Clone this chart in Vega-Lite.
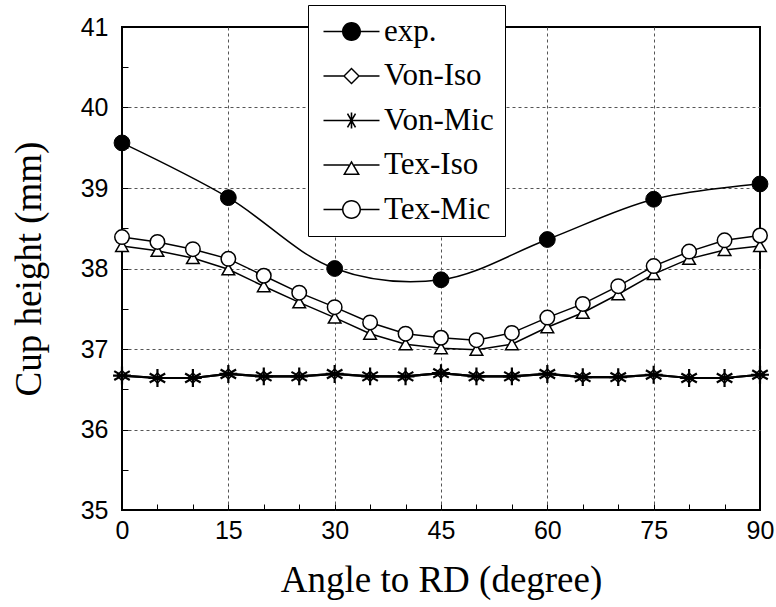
{
  "$schema": "https://vega.github.io/schema/vega-lite/v6.json",
  "width": 638,
  "height": 483,
  "autosize": {"type": "none"},
  "padding": {"left": 122, "top": 27, "right": 16, "bottom": 97},
  "background": "white",
  "config": {
    "view": {"stroke": "black", "strokeWidth": 2},
    "axis": {
      "domain": false,
      "labelFont": "Liberation Sans",
      "labelFontSize": 25,
      "labelColor": "black",
      "labelFlush": false,
      "labelOverlap": false,
      "tickColor": "black",
      "tickSize": -6,
      "tickWidth": 1,
      "gridColor": "#555555",
      "gridDash": [3, 3],
      "gridWidth": 1,
      "titleFont": "Liberation Serif",
      "titleFontSize": 37,
      "titleFontWeight": "normal",
      "titleColor": "black"
    },
    "legend": {
      "orient": "none",
      "legendX": 186,
      "legendY": -22,
      "fillColor": "white",
      "strokeColor": "black",
      "padding": 11,
      "labelFont": "Liberation Serif",
      "labelFontSize": 31,
      "labelColor": "black",
      "labelOffset": 17,
      "symbolOffset": 17,
      "rowPadding": 12.5,
      "symbolSize": 400,
      "symbolStrokeWidth": 0,
      "symbolOpacity": 1
    }
  },
  "data": {
    "values": [
      {"angle": 0, "h": 39.56, "series": "exp."},
      {"angle": 15, "h": 38.88, "series": "exp."},
      {"angle": 30, "h": 38.0, "series": "exp."},
      {"angle": 45, "h": 37.86, "series": "exp."},
      {"angle": 60, "h": 38.36, "series": "exp."},
      {"angle": 75, "h": 38.86, "series": "exp."},
      {"angle": 90, "h": 39.05, "series": "exp."},
      {"angle": 0, "h": 36.67, "series": "Von-Iso"},
      {"angle": 5, "h": 36.64, "series": "Von-Iso"},
      {"angle": 10, "h": 36.64, "series": "Von-Iso"},
      {"angle": 15, "h": 36.69, "series": "Von-Iso"},
      {"angle": 20, "h": 36.66, "series": "Von-Iso"},
      {"angle": 25, "h": 36.66, "series": "Von-Iso"},
      {"angle": 30, "h": 36.69, "series": "Von-Iso"},
      {"angle": 35, "h": 36.66, "series": "Von-Iso"},
      {"angle": 40, "h": 36.66, "series": "Von-Iso"},
      {"angle": 45, "h": 36.7, "series": "Von-Iso"},
      {"angle": 50, "h": 36.66, "series": "Von-Iso"},
      {"angle": 55, "h": 36.66, "series": "Von-Iso"},
      {"angle": 60, "h": 36.69, "series": "Von-Iso"},
      {"angle": 65, "h": 36.65, "series": "Von-Iso"},
      {"angle": 70, "h": 36.65, "series": "Von-Iso"},
      {"angle": 75, "h": 36.68, "series": "Von-Iso"},
      {"angle": 80, "h": 36.64, "series": "Von-Iso"},
      {"angle": 85, "h": 36.64, "series": "Von-Iso"},
      {"angle": 90, "h": 36.68, "series": "Von-Iso"},
      {"angle": 0, "h": 36.67, "series": "Von-Mic"},
      {"angle": 5, "h": 36.64, "series": "Von-Mic"},
      {"angle": 10, "h": 36.64, "series": "Von-Mic"},
      {"angle": 15, "h": 36.69, "series": "Von-Mic"},
      {"angle": 20, "h": 36.66, "series": "Von-Mic"},
      {"angle": 25, "h": 36.66, "series": "Von-Mic"},
      {"angle": 30, "h": 36.69, "series": "Von-Mic"},
      {"angle": 35, "h": 36.66, "series": "Von-Mic"},
      {"angle": 40, "h": 36.66, "series": "Von-Mic"},
      {"angle": 45, "h": 36.7, "series": "Von-Mic"},
      {"angle": 50, "h": 36.66, "series": "Von-Mic"},
      {"angle": 55, "h": 36.66, "series": "Von-Mic"},
      {"angle": 60, "h": 36.69, "series": "Von-Mic"},
      {"angle": 65, "h": 36.65, "series": "Von-Mic"},
      {"angle": 70, "h": 36.65, "series": "Von-Mic"},
      {"angle": 75, "h": 36.68, "series": "Von-Mic"},
      {"angle": 80, "h": 36.64, "series": "Von-Mic"},
      {"angle": 85, "h": 36.64, "series": "Von-Mic"},
      {"angle": 90, "h": 36.68, "series": "Von-Mic"},
      {"angle": 0, "h": 38.28, "series": "Tex-Iso"},
      {"angle": 5, "h": 38.22, "series": "Tex-Iso"},
      {"angle": 10, "h": 38.13, "series": "Tex-Iso"},
      {"angle": 15, "h": 37.99, "series": "Tex-Iso"},
      {"angle": 20, "h": 37.78, "series": "Tex-Iso"},
      {"angle": 25, "h": 37.58, "series": "Tex-Iso"},
      {"angle": 30, "h": 37.39, "series": "Tex-Iso"},
      {"angle": 35, "h": 37.19, "series": "Tex-Iso"},
      {"angle": 40, "h": 37.06, "series": "Tex-Iso"},
      {"angle": 45, "h": 37.01, "series": "Tex-Iso"},
      {"angle": 50, "h": 36.99, "series": "Tex-Iso"},
      {"angle": 55, "h": 37.06, "series": "Tex-Iso"},
      {"angle": 60, "h": 37.27, "series": "Tex-Iso"},
      {"angle": 65, "h": 37.45, "series": "Tex-Iso"},
      {"angle": 70, "h": 37.68, "series": "Tex-Iso"},
      {"angle": 75, "h": 37.93, "series": "Tex-Iso"},
      {"angle": 80, "h": 38.12, "series": "Tex-Iso"},
      {"angle": 85, "h": 38.23, "series": "Tex-Iso"},
      {"angle": 90, "h": 38.28, "series": "Tex-Iso"},
      {"angle": 0, "h": 38.39, "series": "Tex-Mic"},
      {"angle": 5, "h": 38.33, "series": "Tex-Mic"},
      {"angle": 10, "h": 38.24, "series": "Tex-Mic"},
      {"angle": 15, "h": 38.12, "series": "Tex-Mic"},
      {"angle": 20, "h": 37.91, "series": "Tex-Mic"},
      {"angle": 25, "h": 37.7, "series": "Tex-Mic"},
      {"angle": 30, "h": 37.52, "series": "Tex-Mic"},
      {"angle": 35, "h": 37.33, "series": "Tex-Mic"},
      {"angle": 40, "h": 37.19, "series": "Tex-Mic"},
      {"angle": 45, "h": 37.14, "series": "Tex-Mic"},
      {"angle": 50, "h": 37.11, "series": "Tex-Mic"},
      {"angle": 55, "h": 37.2, "series": "Tex-Mic"},
      {"angle": 60, "h": 37.39, "series": "Tex-Mic"},
      {"angle": 65, "h": 37.56, "series": "Tex-Mic"},
      {"angle": 70, "h": 37.78, "series": "Tex-Mic"},
      {"angle": 75, "h": 38.03, "series": "Tex-Mic"},
      {"angle": 80, "h": 38.21, "series": "Tex-Mic"},
      {"angle": 85, "h": 38.35, "series": "Tex-Mic"},
      {"angle": 90, "h": 38.41, "series": "Tex-Mic"}
    ]
  },
  "encoding": {
    "x": {
      "field": "angle",
      "type": "quantitative",
      "scale": {"domain": [0, 90], "nice": false, "zero": false},
      "axis": {
        "title": "Angle to RD (degree)",
        "values": [0, 5, 10, 15, 20, 25, 30, 35, 40, 45, 50, 55, 60, 65, 70, 75, 80, 85, 90],
        "labelExpr": "datum.value % 15 === 0 ? format(datum.value, 'd') : ''",
        "gridOpacity": {"condition": {"test": "datum.value % 15 === 0 && datum.value > 0 && datum.value < 90", "value": 1}, "value": 0},
        "labelPadding": 14,
        "titlePadding": 19
      }
    },
    "y": {
      "field": "h",
      "type": "quantitative",
      "scale": {"domain": [35, 41], "nice": false, "zero": false},
      "axis": {
        "title": "Cup height (mm)",
        "values": [35, 35.5, 36, 36.5, 37, 37.5, 38, 38.5, 39, 39.5, 40, 40.5, 41],
        "labelExpr": "datum.value % 1 === 0 ? format(datum.value, 'd') : ''",
        "gridOpacity": {"condition": {"test": "datum.value % 1 === 0 && datum.value > 35 && datum.value < 41", "value": 1}, "value": 0},
        "labelPadding": 20,
        "titlePadding": 32
      }
    }
  },
  "layer": [
    {
      "transform": [{"filter": "datum.series === 'exp.'"}],
      "mark": {"type": "line", "interpolate": "catmull-rom", "color": "black", "strokeWidth": 1.5}
    },
    {
      "transform": [{"filter": "datum.series === 'Von-Iso' || datum.series === 'Von-Mic'"}],
      "mark": {"type": "line", "color": "black", "strokeWidth": 2.2},
      "encoding": {"detail": {"field": "series"}}
    },
    {
      "transform": [{"filter": "datum.series === 'Tex-Iso' || datum.series === 'Tex-Mic'"}],
      "mark": {"type": "line", "color": "black", "strokeWidth": 1.5},
      "encoding": {"detail": {"field": "series"}}
    },
    {
      "transform": [{"filter": "datum.series === 'exp.'"}],
      "mark": {"type": "point", "shape": "circle", "filled": true, "fill": "black", "stroke": "black", "strokeWidth": 1, "size": 250, "opacity": 1}
    },
    {
      "transform": [{"filter": "datum.series === 'Von-Iso'"}],
      "mark": {"type": "point", "shape": "diamond", "filled": true, "fill": "white", "stroke": "black", "strokeWidth": 1.5, "size": 100, "opacity": 1}
    },
    {
      "transform": [{"filter": "datum.series === 'Von-Mic'"}],
      "mark": {"type": "point", "shape": "M0,-1L0,1M-0.87,-0.5L0.87,0.5M-0.87,0.5L0.87,-0.5M-1,0L1,0", "filled": false, "stroke": "black", "strokeWidth": 2.2, "size": 320, "opacity": 1}
    },
    {
      "transform": [{"filter": "datum.series === 'Tex-Iso'"}],
      "mark": {"type": "point", "shape": "triangle-up", "filled": true, "fill": "white", "stroke": "black", "strokeWidth": 1.5, "size": 160, "opacity": 1}
    },
    {
      "transform": [{"filter": "datum.series === 'Tex-Mic'"}],
      "mark": {"type": "point", "shape": "circle", "filled": true, "fill": "white", "stroke": "black", "strokeWidth": 1.5, "size": 210, "opacity": 1}
    },
    {
      "mark": {"type": "point", "filled": true, "fill": "black", "opacity": 0},
      "encoding": {
        "shape": {
          "field": "series",
          "scale": {
            "domain": ["exp.", "Von-Iso", "Von-Mic", "Tex-Iso", "Tex-Mic"],
            "range": [
              "M-2.8,-0.075H-0.9V0.075H-2.8ZM0.9,-0.075H2.8V0.075H0.9ZM0.95,0A0.95,0.95,0,1,1,-0.95,0A0.95,0.95,0,1,1,0.95,0Z",
              "M-2.8,-0.075H-0.8V0.075H-2.8ZM0.8,-0.075H2.8V0.075H0.8ZM0,-0.85L0.85,0L0,0.85L-0.85,0ZM0,-0.65L-0.65,0L0,0.65L0.65,0Z",
              "M-2.8,-0.075H2.8V0.075H-2.8ZM-0.08,-0.8H0.08V0.8H-0.08ZM-0.331,-0.733L0.469,0.653L0.331,0.733L-0.469,-0.653ZM-0.469,0.653L0.331,-0.733L0.469,-0.653L-0.331,0.733Z",
              "M-2.8,-0.075H-0.26V0.075H-2.8ZM0.26,-0.075H2.8V0.075H0.26ZM0,-0.45L0.85,1.0L-0.85,1.0ZM0,-0.153L-0.588,0.85L0.588,0.85Z",
              "M-2.8,-0.075H-0.9V0.075H-2.8ZM0.9,-0.075H2.8V0.075H0.9ZM0.95,0A0.95,0.95,0,1,1,-0.95,0A0.95,0.95,0,1,1,0.95,0ZM0.8,0A0.8,0.8,0,1,0,-0.8,0A0.8,0.8,0,1,0,0.8,0Z"
            ]
          },
          "legend": {"title": null}
        }
      }
    }
  ]
}
